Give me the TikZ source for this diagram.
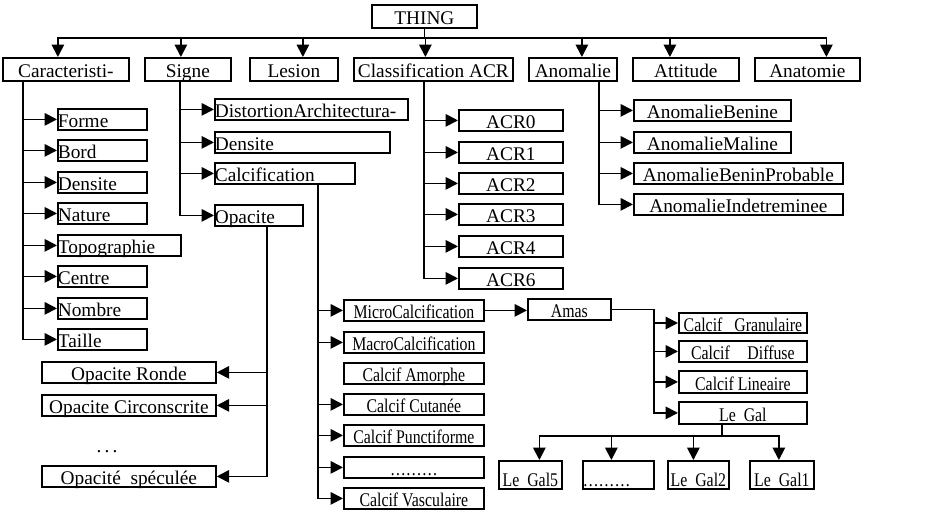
\documentclass[tikz,border=0pt]{standalone}
\usepackage{fontspec}
\setmainfont{Liberation Serif}
\newfontfamily\narrowserif[FakeStretch=0.82]{Liberation Serif}
\usetikzlibrary{arrows.meta,calc}

\begin{document}
\begin{tikzpicture}[x=0.02cm, y=-0.02cm,
            every node/.style={font=\fontsize{11}{13}\selectfont},
            box/.style={draw, line width=1pt, anchor=north west, inner xsep=1pt, inner ysep=0.5pt, text height=10pt, text depth=0.5pt, minimum height=21*0.02cm},
            cbox/.style={box, minimum width=#1*0.02cm},
            lbox/.style={box, inner xsep=0pt, text width=#1*0.02cm, align=left},
            nar/.style={font=\narrowserif\fontsize{11}{13}\selectfont},
            link/.style={draw, line width=1pt, -{Triangle[length=7pt,width=7pt]}}]
        \useasboundingbox (0,0) rectangle (950,511);

        % top row
        \node[cbox=105, minimum height=23*0.02cm] (thing) at (371,4) {THING};
        \node[cbox=126, minimum height=23*0.02cm] (car) at (2,57) {Caracteristi-};
        \node[cbox=86, minimum height=23*0.02cm] (signe) at (144,57) {Signe};
        \node[cbox=88, minimum height=23*0.02cm] (lesion) at (249,57) {Lesion};
        \node[cbox=159, minimum height=23*0.02cm] (acr) at (353,57) {Classification ACR};
        \node[cbox=88, minimum height=23*0.02cm] (anom) at (528,57) {Anomalie};
        \node[cbox=106, minimum height=23*0.02cm] (att) at (632,57) {Attitude};
        \node[cbox=105, minimum height=23*0.02cm] (anat) at (754,57) {Anatomie};

        % Caracteristi-
        \node[lbox=89] (forme) at (57,108) {Forme};
        \node[lbox=89] (bord) at (57,139) {Bord};
        \node[lbox=89] (densite) at (57,171) {Densite};
        \node[lbox=89] (nature) at (57,202) {Nature};
        \node[lbox=123] (topo) at (57,234) {Topographie};
        \node[lbox=89] (centre) at (57,265) {Centre};
        \node[lbox=89] (nombre) at (57,297) {Nombre};
        \node[lbox=89] (taille) at (57,328) {Taille};

        % Signe
        \node[lbox=193] (dist) at (214,98) {DistortionArchitectura-};
        \node[lbox=175] (sdens) at (214,131) {Densite};
        \node[lbox=140] (calc) at (214,162) {Calcification};
        \node[lbox=88] (opac) at (214,204) {Opacite};

        % Opacite
        \node[cbox=174] (ronde) at (41,361) {Opacite Ronde};
        \node[cbox=174] (circ) at (41,394) {Opacite Circonscrite};
        \node (odots) at (107,452) {.\,.\,.};
        \node[cbox=174] (spec) at (41,465) {Opacité~~spéculée};

        % Calcification
        \node[cbox=140, nar] (micro) at (343,299) {MicroCalcification};
        \node[cbox=140, nar] (macro) at (343,331) {MacroCalcification};
        \node[cbox=140, nar] (amorph) at (343,362) {Calcif Amorphe};
        \node[cbox=140, nar] (cutanee) at (343,393) {Calcif Cutanée};
        \node[cbox=140, nar] (punct) at (343,424) {Calcif Punctiforme};
        \node[cbox=140, nar] (cdots) at (343,456) {………};
        \node[cbox=140, nar] (vasc) at (343,487) {Calcif Vasculaire};

        % Amas
        \node[cbox=83, nar] (amas) at (527,298) {Amas};
        \node[cbox=128, nar, minimum height=20*0.02cm] (gran) at (678,312) {Calcif\ \ \ Granulaire};
        \node[cbox=128, nar] (diff) at (678,340) {Calcif\hspace{10pt}Diffuse};
        \node[cbox=128, nar, minimum height=22*0.02cm] (lin) at (678,370) {Calcif Lineaire};
        \node[cbox=128, nar, minimum height=22*0.02cm] (legal) at (678,401) {Le~~Gal};

        % Le Gal
        \node[cbox=63, nar, minimum height=28*0.02cm, text height=14pt] (gal5) at (498,460) {Le~~Gal5};
        \node[lbox=71, nar, minimum height=28*0.02cm, text height=14pt] (gdots) at (582,460) {………};
        \node[cbox=61, nar, minimum height=28*0.02cm, text height=14pt] (gal2) at (667,460) {Le~~Gal2};
        \node[cbox=64, nar, minimum height=28*0.02cm, text height=14pt] (gal1) at (749,460) {Le~~Gal1};

        % Classification ACR
        \node[cbox=104] (acr0) at (458,109) {ACR0};
        \node[cbox=104] (acr1) at (458,141) {ACR1};
        \node[cbox=104] (acr2) at (458,172) {ACR2};
        \node[cbox=104] (acr3) at (458,203) {ACR3};
        \node[cbox=104] (acr4) at (458,235) {ACR4};
        \node[cbox=104] (acr6) at (458,267) {ACR6};

        % Anomalie
        \node[cbox=157] (ben) at (633,99) {AnomalieBenine};
        \node[cbox=157] (mal) at (633,131) {AnomalieMaline};
        \node[cbox=209] (prob) at (633,162) {AnomalieBeninProbable};
        \node[cbox=209] (indet) at (633,193) {AnomalieIndetreminee};

        % connectors
        \foreach \c/\dx in {car/-8, signe/-7, lesion/9, acr/-8, anom/9, att/-16, anat/19}
          \draw[link] (thing.south) -- ++(0,9) -| ($(\c.north)+(\dx,0)$);
        \foreach \c in {forme,bord,densite,nature,topo,centre,nombre,taille}
          \draw[link] ($(car.south west)+(21,0)$) |- (\c.west);
        \foreach \c in {dist,sdens,calc,opac}
          \draw[link] ($(signe.south west)+(36,0)$) |- (\c.west);
        \foreach \c in {ronde,circ,spec}
          \draw[link] ($(opac.south west)+(53,0)$) |- (\c.east);
        \foreach \c in {micro,macro,cutanee,punct,cdots,vasc}
          \draw[link] ($(calc.south west)+(104,0)$) |- (\c.west);
        \draw[link] (micro.east) -- (micro.east -| amas.west);
        \foreach \c in {gran,diff,lin,legal}
          \draw[link] (amas.east) -- ++(42,0) |- (\c.west);
        \foreach \c/\dx in {gal5/9, gdots/-7, gal2/-5, gal1/-3}
          \draw[link] ($(legal.south west)+(44,0)$) -- ++(0,11) -| ($(\c.north)+(\dx,0)$);
        \foreach \c in {acr0,acr1,acr2,acr3,acr4,acr6}
          \draw[link] ($(acr.south west)+(71,0)$) |- (\c.west);
        \foreach \c in {ben,mal,prob,indet}
          \draw[link] ($(anom.south west)+(71,0)$) |- (\c.west);
\end{tikzpicture}
\end{document}
